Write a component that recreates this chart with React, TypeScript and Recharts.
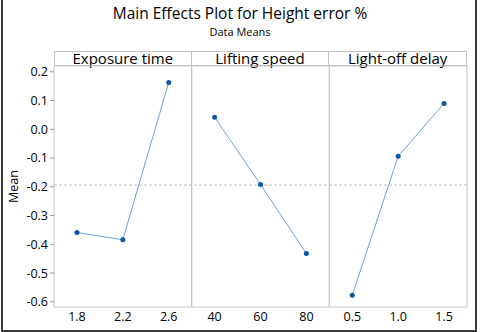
import {
  LineChart,
  Line,
  XAxis,
  YAxis,
  ReferenceArea,
  ReferenceLine,
} from 'recharts'

const factors = ['Exposure time', 'Lifting speed', 'Light-off delay']
const exposureLevels = ['1.8', '2.2', '2.6']
const exposureMeans = [-0.359, -0.384, 0.163]
const liftingLevels = ['40', '60', '80']
const liftingMeans = [0.042, -0.192, -0.432]
const delayLevels = ['0.5', '1.0', '1.5']
const delayMeans = [-0.577, -0.094, 0.09]
const grandMean = -0.194
const yTicks = [-0.6, -0.5, -0.4, -0.3, -0.2, -0.1, 0.0, 0.1, 0.2]

const FONT = '"Open Sans", "Noto Sans", sans-serif'
const LINE = '#6a9fd8'
const DOT = '#0a58a8'
const FRAME = '#c4c4c4'
const INK = '#000'

const allLevels = [...exposureLevels, ...liftingLevels, ...delayLevels]

// each factor gets 3 slots on a shared 0..9 axis
function rows(means: number[], panel: number) {
  return means.map((m, i) => ({ pos: panel * 3 + i + 0.5, mean: m }))
}

const series = [
  rows(exposureMeans, 0),
  rows(liftingMeans, 1),
  rows(delayMeans, 2),
]

const PLOT_LEFT = 54
const PLOT_RIGHT = 467
const PANEL_W = (PLOT_RIGHT - PLOT_LEFT) / 3

function YLabel({ viewBox }: any) {
  const cy = viewBox.y + viewBox.height / 2
  return (
    <text
      x={13}
      y={cy}
      transform={`rotate(-90 13 ${cy})`}
      textAnchor="middle"
      dominantBaseline="central"
      fontSize={12.5}
      fontFamily={FONT}
      fill={INK}
    >
      Mean
    </text>
  )
}

export default function App() {
  return (
    <div
      style={{
        position: 'absolute',
        left: 0,
        top: 0,
        width: 480,
        height: 332,
        background: '#fff',
        fontFamily: FONT,
        overflow: 'hidden',
      }}
    >
      <div
        style={{
          position: 'absolute',
          left: 1,
          top: -2,
          width: 472,
          height: 330,
          border: '2px solid #3a3a3a',
          boxSizing: 'content-box',
        }}
      />
      <div
        style={{
          position: 'absolute',
          left: 0,
          width: 480,
          top: 3,
          textAlign: 'center',
          fontSize: 15.5,
          color: INK,
          lineHeight: '20px',
        }}
      >
        Main Effects Plot for Height error %
      </div>
      <div
        style={{
          position: 'absolute',
          left: 0,
          width: 480,
          top: 25,
          textAlign: 'center',
          fontSize: 11,
          color: INK,
          lineHeight: '14px',
        }}
      >
        Data Means
      </div>
      {factors.map((f, i) => (
        <div
          key={f}
          style={{
            position: 'absolute',
            left: PLOT_LEFT + i * PANEL_W,
            top: 51,
            width: PANEL_W,
            height: 15,
            boxSizing: 'border-box',
            border: `1px solid ${FRAME}`,
            borderLeftWidth: i === 0 ? 1 : 0,
            textAlign: 'center',
            fontSize: 15,
            lineHeight: '13px',
            color: INK,
          }}
        >
          {f}
        </div>
      ))}
      <div style={{ position: 'absolute', left: 0, top: 0 }}>
        <LineChart
          width={480}
          height={332}
          margin={{ top: 66, right: 480 - PLOT_RIGHT, bottom: 5, left: 0 }}
        >
          <XAxis
            type="number"
            dataKey="pos"
            domain={[0, 9]}
            ticks={[0.5, 1.5, 2.5, 3.5, 4.5, 5.5, 6.5, 7.5, 8.5]}
            tickFormatter={(v: number) => allLevels[Math.floor(v)]}
            axisLine={false}
            tickLine={false}
            tickSize={3}
            tickMargin={2}
            height={20}
            tick={{ fontSize: 12.5, fill: INK, fontFamily: FONT }}
            allowDataOverflow
          />
          <YAxis
            type="number"
            domain={[-0.618, 0.22]}
            ticks={yTicks}
            tickFormatter={(v: number) => v.toFixed(1)}
            width={PLOT_LEFT}
            axisLine={false}
            tickLine={{ stroke: '#999' }}
            tickSize={4}
            tickMargin={2}
            tick={{ fontSize: 12.5, fill: INK, fontFamily: FONT }}
            allowDataOverflow
            label={<YLabel />}
          />
          {[0, 1, 2].map((p) => (
            <ReferenceArea
              key={p}
              x1={p * 3}
              x2={p * 3 + 3}
              fill="none"
              stroke={FRAME}
              strokeWidth={1}
            />
          ))}
          <ReferenceLine
            y={grandMean}
            stroke="#b8b8b8"
            strokeDasharray="3 2"
          />
          {series.map((d, i) => (
            <Line
              key={i}
              data={d}
              dataKey="mean"
              stroke={LINE}
              strokeWidth={1}
              dot={{ r: 2.5, fill: DOT, stroke: DOT, strokeWidth: 0 }}
              isAnimationActive={false}
            />
          ))}
        </LineChart>
      </div>
    </div>
  )
}
